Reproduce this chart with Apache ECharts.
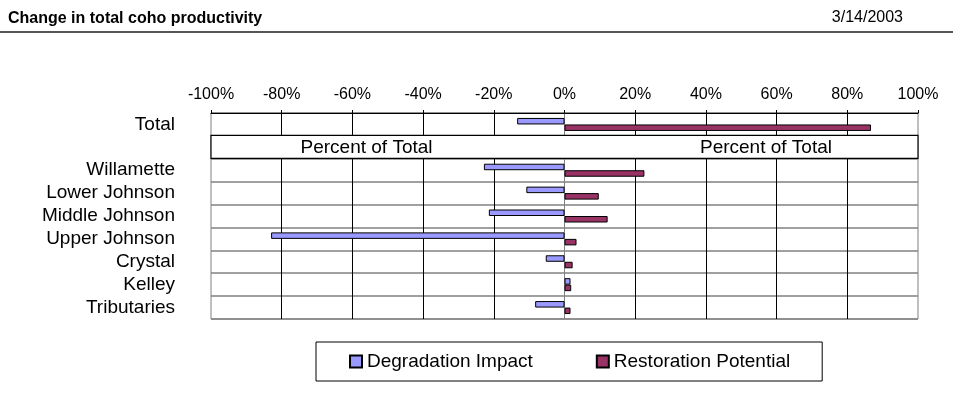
<!DOCTYPE html>
<html>
<head>
<meta charset="utf-8">
<script src="https://cdn.jsdelivr.net/npm/echarts@6/dist/echarts.min.js"></script>
<style>
html,body{margin:0;padding:0;background:#fff;}
#chart{width:953px;height:418px;}
</style>
</head>
<body>
<div id="chart"></div>
<script>
// ---- data ----
const chartTitle = 'Change in total coho productivity';
const chartDate = '3/14/2003';
const categories = ['Total', '', 'Willamette', 'Lower Johnson', 'Middle Johnson', 'Upper Johnson', 'Crystal', 'Kelley', 'Tributaries'];
const degradationImpact = [-13.4, null, -22.8, -10.8, -21.4, -83.0, -5.3, 1.7, -8.3];
const restorationPotential = [86.7, null, 22.6, 9.7, 12.2, 3.4, 2.3, 1.9, 1.7];
const seriesNames = ['Degradation Impact', 'Restoration Potential'];
const dividerLabel = 'Percent of Total';
const dividerRow = [[0, 1]];
const xTicks = {min: -100, max: 100, step: 20};

const FONT = '"Liberation Sans", Arial, Helvetica, sans-serif';
const chart = echarts.init(document.getElementById('chart'), null, {renderer: 'canvas'});

const option = {
  backgroundColor: '#fff',
  animation: false,
  title: {
    text: chartTitle,
    left: 3, top: 6,
    textStyle: {fontFamily: FONT, fontSize: 16, fontWeight: 'bold', color: '#000'}
  },
  graphic: [
    {type: 'text', right: 50, top: 10, style: {text: chartDate, font: '16px ' + FONT, fill: '#000'}},
    {type: 'line', shape: {x1: 0, y1: 32, x2: 953, y2: 32}, style: {stroke: '#555', lineWidth: 2}}
  ],
  grid: {
    left: 211, right: 35, top: 113, bottom: 99,
    show: true, borderColor: '#808080', borderWidth: 1, backgroundColor: 'transparent'
  },
  legend: {
    data: seriesNames,
    left: 316, top: 342,
    orient: 'horizontal',
    icon: 'rect',
    itemWidth: 12, itemHeight: 12,
    itemGap: 63,
    padding: [10, 32, 10, 33],
    borderColor: '#000', borderWidth: 1,
    textStyle: {fontFamily: FONT, fontSize: 19, color: '#000'}
  },
  xAxis: {
    type: 'value',
    position: 'top',
    min: xTicks.min, max: xTicks.max, interval: xTicks.step,
    axisLine: {show: true, lineStyle: {color: '#000', width: 1}},
    axisTick: {show: true, length: 3, lineStyle: {color: '#000'}},
    axisLabel: {formatter: '{value}%', fontFamily: FONT, fontSize: 16, color: '#000', margin: 10},
    splitLine: {show: true, showMinLine: false, showMaxLine: false, lineStyle: {color: '#000', width: 1}}
  },
  yAxis: {
    type: 'category',
    inverse: true,
    data: categories,
    axisLine: {show: true, lineStyle: {color: '#808080', width: 1}},
    axisTick: {show: false},
    axisLabel: {interval: 0, fontFamily: FONT, fontSize: 19, color: '#000', margin: 36},
    splitLine: {show: true, interval: 0, lineStyle: {color: '#808080', width: 1.5}}
  },
  series: [
    {
      name: seriesNames[0],
      type: 'bar',
      data: degradationImpact,
      barWidth: 6.5,
      barGap: '0%',
      itemStyle: {color: '#9999FF', borderColor: '#000', borderWidth: 1}
    },
    {
      name: seriesNames[1],
      type: 'bar',
      data: restorationPotential,
      barWidth: 6.5,
      barGap: '0%',
      itemStyle: {color: '#993366', borderColor: '#000', borderWidth: 1}
    },
    {
      name: 'divider',
      type: 'custom',
      data: dividerRow,
      encode: {x: 0, y: 1},
      z: 5,
      silent: true,
      renderItem: function (params, api) {
        const row = api.value(1);
        const p0 = api.coord([xTicks.min, row]);
        const p1 = api.coord([xTicks.max, row]);
        const h = api.size([0, 1])[1];
        const left = api.coord([-56, row]);
        const right = api.coord([57, row]);
        return {
          type: 'group',
          children: [
            {type: 'rect', shape: {x: p0[0], y: p0[1] - h / 2 - 0.5, width: p1[0] - p0[0], height: h},
             style: {fill: '#fff', stroke: '#000', lineWidth: 1.2}},
            {type: 'text', style: {text: dividerLabel, x: left[0], y: left[1] + 0.5, align: 'center', verticalAlign: 'middle',
             font: '19px ' + FONT, fill: '#000'}},
            {type: 'text', style: {text: dividerLabel, x: right[0], y: right[1] + 0.5, align: 'center', verticalAlign: 'middle',
             font: '19px ' + FONT, fill: '#000'}}
          ]
        };
      }
    }
  ]
};
chart.setOption(option);
</script>
</body>
</html>
